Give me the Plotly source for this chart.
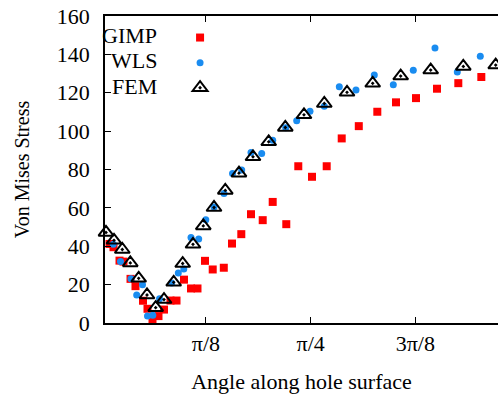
import plotly.graph_objects as go
import math

# ---- data (angle in radians, Von Mises stress) ----
gimp_x = [0.0120, 0.0308, 0.0458, 0.0683, 0.0833, 0.1096, 0.1283, 0.1565, 0.1733, 0.1921,
          0.2146, 0.2353, 0.2596, 0.2822, 0.3103, 0.3366, 0.3609, 0.3891, 0.4180, 0.4596,
          0.4904, 0.5253, 0.5617, 0.6056, 0.6431, 0.6941, 0.7391, 0.7905, 0.8457, 0.9020,
          0.9661, 1.0356, 1.1057, 1.1808, 1.2596, 1.3395, 1.4258]
gimp_y = [42.3, 41.2, 39.5, 32.5, 32.0, 23.0, 19.2, 11.6, 7.4, 2.0,
          3.6, 7.0, 11.7, 11.7, 22.6, 18.0, 18.0, 32.4, 27.9, 28.8,
          41.4, 46.3, 56.7, 53.6, 63.1, 51.5, 81.7, 76.2, 81.7, 96.2,
          102.6, 110.1, 115.0, 117.2, 122.1, 125.0, 128.2]

wls_x = [0.0120, 0.0450, 0.0720, 0.1114, 0.1328, 0.1546, 0.1733, 0.1932, 0.2184, 0.2641,
         0.2889, 0.3095, 0.3366, 0.3654, 0.3921, 0.4228, 0.4604, 0.4923, 0.5268, 0.5617,
         0.6018, 0.6431, 0.6919, 0.7331, 0.7830, 0.8367, 0.8930, 0.9556, 1.0243, 1.0956,
         1.1706, 1.2520, 1.3357, 1.4220]
wls_y = [43.6, 41.0, 32.0, 23.0, 14.6, 20.0, 3.7, 4.0, 12.6, 20.9,
         26.0, 28.1, 44.5, 43.8, 53.8, 60.5, 67.5, 77.9, 79.7, 88.9,
         88.4, 95.3, 101.7, 105.4, 110.4, 113.0, 123.1, 121.4, 129.2, 124.2,
         131.7, 143.3, 130.8, 139.0]

fem_x = [0.0176, 0.0477, 0.0788, 0.1088, 0.1403, 0.1715, 0.2041, 0.2353, 0.2716, 0.3054,
         0.3441, 0.3827, 0.4229, 0.4652, 0.5166, 0.5692, 0.6281, 0.6904, 0.7605, 0.8367,
         0.9219, 1.0183, 1.1233, 1.2359, 1.3582, 1.4798]
fem_y = [47.2, 43.1, 38.3, 31.3, 23.3, 14.6, 8.0, 12.2, 21.2, 31.0,
         41.0, 50.6, 60.2, 69.1, 78.1, 86.6, 94.4, 101.9, 108.5, 114.4,
         120.2, 124.9, 128.7, 131.8, 133.7, 134.4]

x_tick_vals = [math.pi / 8, math.pi / 4, 3 * math.pi / 8]
x_tick_text = ["π/8", "π/4", "3π/8"]
y_tick_vals = [0, 20, 40, 60, 80, 100, 120, 140, 160]
series_names = ["GIMP", "WLS", "FEM"]

FONT = "Liberation Serif"
FS = 22

fig = go.Figure()
fig.add_trace(go.Scatter(x=gimp_x, y=gimp_y, mode="markers", name=series_names[0],
                         cliponaxis=False,
                         marker=dict(symbol="square", size=8, color="#ff0000", line=dict(width=0))))
fig.add_trace(go.Scatter(x=wls_x, y=wls_y, mode="markers", name=series_names[1],
                         cliponaxis=False,
                         marker=dict(symbol="circle", size=7, color="#1a8cf0", line=dict(width=0))))
fig.add_trace(go.Scatter(x=fem_x, y=fem_y, mode="markers", name=series_names[2],
                         cliponaxis=False,
                         marker=dict(symbol="triangle-up-open-dot", size=13, color="black",
                                     line=dict(width=2, color="black"))))

# legend labels (right-aligned, left of the legend symbols)
for name, yy in zip(series_names, [0.935, 0.8566, 0.7718]):
    fig.add_annotation(text=name, xref="paper", yref="paper", x=0.1374, y=yy,
                       xanchor="right", yanchor="middle", showarrow=False,
                       font=dict(family=FONT, size=FS, color="black"))

fig.update_layout(
    template="none",
    width=498, height=400,
    margin=dict(l=105, r=0, t=16, b=77, autoexpand=False),
    paper_bgcolor="white", plot_bgcolor="white",
    font=dict(family=FONT, size=FS, color="black"),
    showlegend=True,
    legend=dict(x=0.191, y=0.987, xanchor="left", yanchor="top",
                bgcolor="rgba(0,0,0,0)", borderwidth=0,
                font=dict(family=FONT, size=17, color="rgba(0,0,0,0)"),
                itemwidth=30, tracegroupgap=0),
)
fig.update_xaxes(
    range=[0.0139, 1.4884],
    tickvals=x_tick_vals, ticktext=x_tick_text,
    ticks="inside", ticklen=6, tickwidth=1, tickcolor="black",
    showline=True, linecolor="black", linewidth=1.5, mirror="ticks",
    showgrid=False, zeroline=False, automargin=False,
    tickfont=dict(family=FONT, size=FS),
    ticklabelstandoff=0,
    ticklabeloverflow="allow",
    title=dict(text="Angle along hole surface", font=dict(family=FONT, size=FS), standoff=18),
)
fig.update_yaxes(
    range=[0, 160],
    tickvals=y_tick_vals,
    ticks="inside", ticklen=6, tickwidth=1, tickcolor="black",
    showline=True, linecolor="black", linewidth=1.5, mirror=False,
    showgrid=False, zeroline=False, automargin=False,
    tickfont=dict(family=FONT, size=FS),
    ticklabelstandoff=9,
    ticklabeloverflow="allow",
    title=dict(text="Von Mises Stress", font=dict(family=FONT, size=20), standoff=22),
)

fig.write_html("out.html", config={"displayModeBar": False},
               post_script="document.body.style.margin='0';")
